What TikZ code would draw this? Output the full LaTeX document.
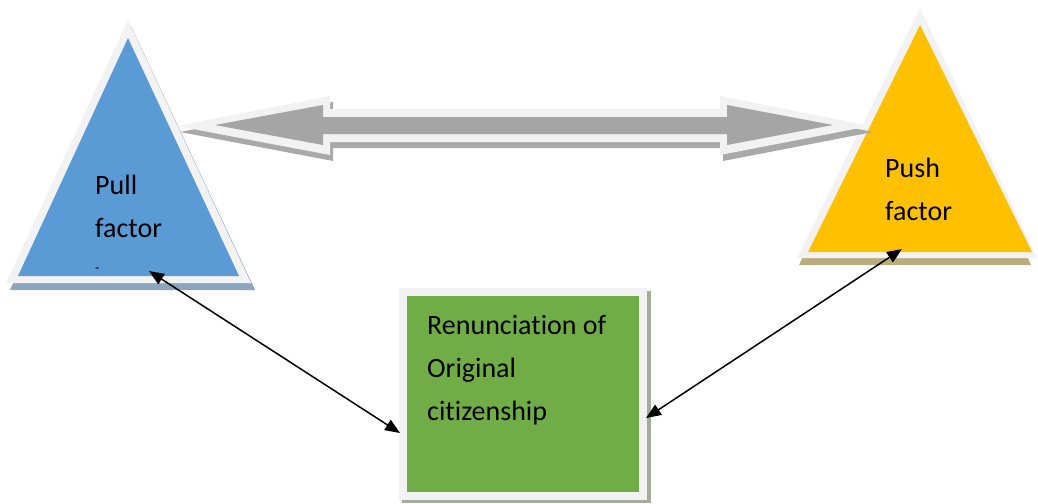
\documentclass[tikz,border=0pt]{standalone}
\usepackage{fontspec}
\setmainfont{Carlito}[Ligatures=NoCommon]
\usetikzlibrary{arrows.meta}
\definecolor{bord}{HTML}{F2F2F2}
\definecolor{pullblue}{HTML}{5B9BD5}
\definecolor{pullshadow}{HTML}{8CA5BE}
\definecolor{pushyellow}{HTML}{FFC000}
\definecolor{pushshadow}{HTML}{BBAC80}
\definecolor{boxgreen}{HTML}{70AD47}
\definecolor{boxshadow}{HTML}{A3AD99}
\definecolor{arrgray}{HTML}{A5A5A5}
\definecolor{arrshadow}{HTML}{A9A9A9}
\tikzset{
  lbl/.style={anchor=base west, inner sep=0pt, font=\fontsize{28}{43}\selectfont, text=black},
  conn/.style={line width=1.5pt, {Triangle[length=15pt,width=12pt]}-{Triangle[length=15pt,width=12pt]}},
}
\begin{document}
\begin{tikzpicture}[x=1pt,y=-1pt]
\useasboundingbox (0,0) rectangle (1038,503);
% Pull triangle
\fill[pullshadow] (131,26) -- (10,290) -- (255,290) -- cycle;
\fill[bord] (128,20) -- (6,283) -- (251,283) -- cycle;
\fill[pullblue] (128,38) -- (18,276) -- (239,276) -- cycle;
% Push triangle
\fill[pushshadow] (922,14) -- (799,265) -- (1031,265) -- cycle;
\fill[bord] (920,8) -- (797,258) -- (1037,258) -- cycle;
\fill[pushyellow] (920,25) -- (808,252) -- (1032,252) -- cycle;
% Renunciation box
\fill[boxshadow] (402,291) rectangle (651,503);
\fill[bord] (399,288) rectangle (647,500);
\fill[boxgreen] (407,296) rectangle (639,492);
% double block arrow
\fill[arrshadow] (180,132) -- (333,102) -- (333,115) -- (723,115) -- (723,102) -- (873,132) -- (723,161) -- (723,148) -- (333,148) -- (333,161) -- cycle;
\fill[bord] (177,126) -- (330,96) -- (330,109) -- (720,109) -- (720,96) -- (870,126) -- (720,155) -- (720,142) -- (330,142) -- (330,155) -- cycle;
\fill[arrgray] (215,125) -- (323,105) -- (323,117) -- (727,117) -- (727,105) -- (833,125) -- (727,145) -- (727,134) -- (323,134) -- (323,145) -- cycle;
% texts
\node[lbl] (pull1) at (95,194) {Pull};
\node[lbl] (pull2) at (95,237) {factor};
\node[anchor=base west, inner sep=0pt, font=\fontsize{14}{14}\selectfont] (pull3) at (95,272) {-};
\node[lbl] (push1) at (885,177) {Push};
\node[lbl] (push2) at (885,220) {factor};
\node[lbl] (ren1) at (427,334) {Renunciation of};
\node[lbl] (ren2) at (427,377) {Original};
\node[lbl] (ren3) at (427,420) {citizenship};
% connectors
\coordinate (pullend) at (149,271);
\coordinate (renleft) at (400,433);
\coordinate (pushend) at (902,249);
\coordinate (renright) at (646,418);
\draw[conn] (pullend) -- (renleft);
\draw[conn] (pushend) -- (renright);
\end{tikzpicture}
\end{document}
